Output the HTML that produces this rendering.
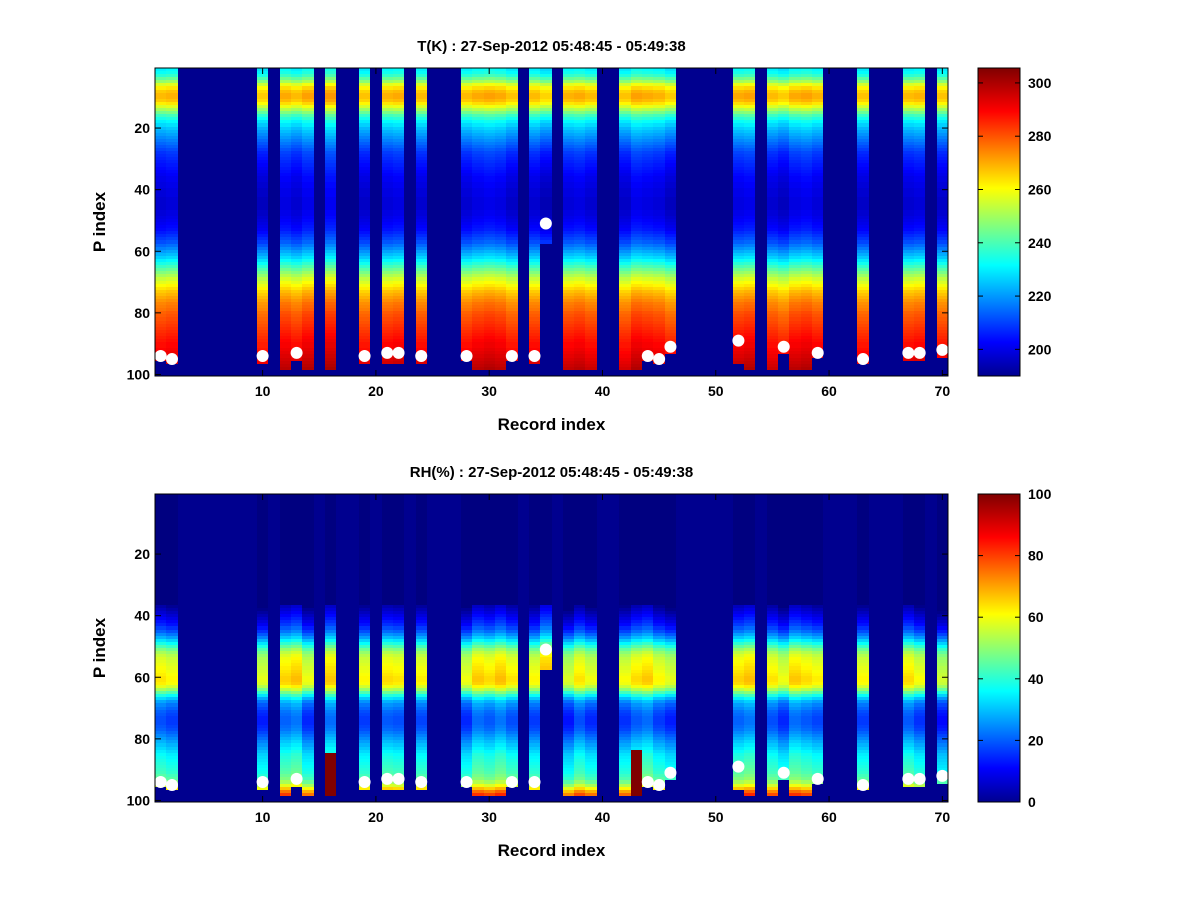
<!DOCTYPE html>
<html><head><meta charset="utf-8"><style>
body{margin:0;background:#fff;width:1200px;height:900px;overflow:hidden}
svg text{font-family:"Liberation Sans",sans-serif;font-weight:bold}
.cells rect{shape-rendering:crispEdges}
</style></head><body>
<svg id="s" width="1200" height="900" xmlns="http://www.w3.org/2000/svg">
<rect width="1200" height="900" fill="#fff"/>
<defs>
<linearGradient id="jet" x1="0" y1="1" x2="0" y2="0">
<stop offset="0" stop-color="#00008f"/><stop offset="0.11" stop-color="#0000ff"/>
<stop offset="0.36" stop-color="#00ffff"/><stop offset="0.61" stop-color="#ffff00"/>
<stop offset="0.86" stop-color="#ff0000"/><stop offset="1" stop-color="#800000"/>
</linearGradient></defs>
</svg>
<script>
const records=[1,2,10,12,13,14,16,19,21,22,24,28,29,30,31,32,34,35,37,38,39,42,43,44,45,46,52,53,55,56,57,58,59,63,67,68,70];
const bottomRows=[95,96,96,98,95,98,98,96,96,96,96,95,98,98,98,95,96,57,98,98,98,98,98,95,96,93,96,98,98,93,98,98,94,96,95,95,94];
const tOffset=[0,1,-2,2,0,3,4,-1,1,2,0,0,2,3,2,-1,0,-3,1,2,0,-1,3,2,1,-2,2,3,0,-2,2,3,1,-1,0,1,-1];
const rhOffset=[2,0,-3,4,6,-2,5,0,3,2,1,-2,5,3,6,2,0,8,-4,2,-2,-1,3,5,0,-3,4,6,2,-2,5,3,1,0,3,-1,-5];
const dotRecords=[1,2,10,13,19,21,22,24,28,32,34,35,44,45,46,52,56,59,63,67,68,70];
const dotRows=[94,95,94,93,94,93,93,94,94,94,94,51,94,95,91,89,91,93,95,93,93,92];
const rhSpikeRecords=[16,43];
const rhSpikeTop=[85,84];
const tProfile=[232,234,238,244,250,258,264,268,270,270,268,264,258,252,246,240,236,232,229,226,224,222,220,218,216,214,212,210,209,208,207,206,205,204,203,202,202,201,201,200,200,200,199,199,199,199,200,200,201,202,203,204,205,207,209,211,213,216,219,222,225,228,232,236,240,244,248,252,256,259,262,265,268,270,272,274,276,277,278,280,281,282,283,284,285,286,287,288,289,290,290,291,292,293,294,295,296,297,298,298];
const rhProfile=[0,0,0,0,0,0,0,0,0,0,0,0,0,0,0,0,0,0,0,0,0,0,0,0,0,0,0,0,0,0,0,0,0,0,0,0,2,4,6,8,10,12,14,17,20,24,28,33,38,43,48,52,55,57,58,59,60,61,62,63,63,62,58,52,45,38,32,27,24,22,20,19,18,18,18,19,20,22,24,26,28,30,32,34,36,37,38,39,40,41,42,44,46,50,56,64,72,78,80,80];
const xTicks=[10,20,30,40,50,60,70];
const yTicks=[20,40,60,80,100];
const tTicks=[200,220,240,260,280,300];
const rhTicks=[0,20,40,60,80,100];

const NS="http://www.w3.org/2000/svg";
const svg=document.getElementById('s');
function mk(tag,attrs,parent){const e=document.createElementNS(NS,tag);for(const k in attrs)e.setAttribute(k,attrs[k]);(parent||svg).appendChild(e);return e;}
function jet(v){v=Math.max(0,Math.min(1,v));
 const r=Math.max(0,Math.min(1,Math.min(4*v-1.5,-4*v+4.5)));
 const g=Math.max(0,Math.min(1,Math.min(4*v-0.5,-4*v+3.5)));
 const b=Math.max(0,Math.min(1,Math.min(4*v+0.5,-4*v+2.5)));
 return `rgb(${Math.round(r*255)},${Math.round(g*255)},${Math.round(b*255)})`;}
const X0=155,X1=948,CW=(X1-X0)/70;
function xScale(rec){return X0+(rec-0.5)*CW;}

function panel(top,vmin,vmax,profile,offsets,title,cbTicks,isRH,name){
 const H=308,RH=H/100;
 const yScale=p=>top+(p-0.5)*RH;
 const g=mk('g',{});
 
 
 const cells=mk('g',{class:'cells'},g);
 const bg=mk('rect',{x:X0,y:top,width:X1-X0,height:H,fill:'#00008f'},cells);
 
 
 records.forEach((rec,i)=>{
  for(let p=1;p<=bottomRows[i];p++){
   let v=profile[p-1]+offsets[i];
   if(isRH){const si=rhSpikeRecords.indexOf(rec);if(si>=0&&p>=rhSpikeTop[si])v=100;if(profile[p-1]===0)v=0;}
   const x0=Math.round(xScale(rec)-CW/2),x1=Math.round(xScale(rec)+CW/2);
   const y0=Math.round(yScale(p)-RH/2),y1=Math.round(yScale(p)+RH/2);
   const c=mk('rect',{x:x0,y:y0,width:x1-x0,height:y1-y0,fill:jet((v-vmin)/(vmax-vmin))},cells);
   
   
  }
 });
 dotRecords.forEach((rec,i)=>{
  const d=mk('circle',{cx:xScale(rec),cy:yScale(dotRows[i]),r:6,fill:'#fff'},g);
  
  
 });
 mk('rect',{x:X0,y:top,width:X1-X0,height:H,fill:'none',stroke:'#000','stroke-width':1},g);
 xTicks.forEach(t=>{const x=xScale(t);
  mk('line',{x1:x,x2:x,y1:top,y2:top+6,stroke:'#000'},g);
  mk('line',{x1:x,x2:x,y1:top+H,y2:top+H-6,stroke:'#000'},g);
  const tx=mk('text',{x:x,y:top+H+20,'text-anchor':'middle','font-size':14},g);tx.textContent=t;
  });
 yTicks.forEach(t=>{const y=yScale(t);
  mk('line',{x1:X0,x2:X0+6,y1:y,y2:y,stroke:'#000'},g);
  mk('line',{x1:X1,x2:X1-6,y1:y,y2:y,stroke:'#000'},g);
  const tx=mk('text',{x:X0-5,y:y+5,'text-anchor':'end','font-size':14},g);tx.textContent=t;
  });
 const tt=mk('text',{x:(X0+X1)/2,y:top-17,'text-anchor':'middle','font-size':15},g);tt.textContent=title;
 
 const xl=mk('text',{x:(X0+X1)/2,y:top+H+54,'text-anchor':'middle','font-size':17},g);xl.textContent='Record index';
 
 const yl=mk('text',{x:0,y:0,'text-anchor':'middle','font-size':17,transform:`translate(105,${top+H/2}) rotate(-90)`},g);yl.textContent='P index';
 
 const cbx=978,cbw=42;
 const cb=mk('rect',{x:cbx,y:top,width:cbw,height:H,fill:'url(#jet)',stroke:'#000'},g);
 
 cbTicks.forEach(t=>{const y=top+H-(t-vmin)/(vmax-vmin)*H;
  mk('line',{x1:cbx,x2:cbx+5,y1:y,y2:y,stroke:'#000'},g);
  mk('line',{x1:cbx+cbw,x2:cbx+cbw-5,y1:y,y2:y,stroke:'#000'},g);
  const tx=mk('text',{x:cbx+cbw+8,y:y+5,'font-size':14},g);tx.textContent=t;
  });
}
panel(68,190,305.6,tProfile,tOffset,'T(K) : 27-Sep-2012 05:48:45 - 05:49:38',tTicks,false,'temperature');
panel(494,0,100,rhProfile,rhOffset,'RH(%) : 27-Sep-2012 05:48:45 - 05:49:38',rhTicks,true,'humidity');
</script>
</body></html>
